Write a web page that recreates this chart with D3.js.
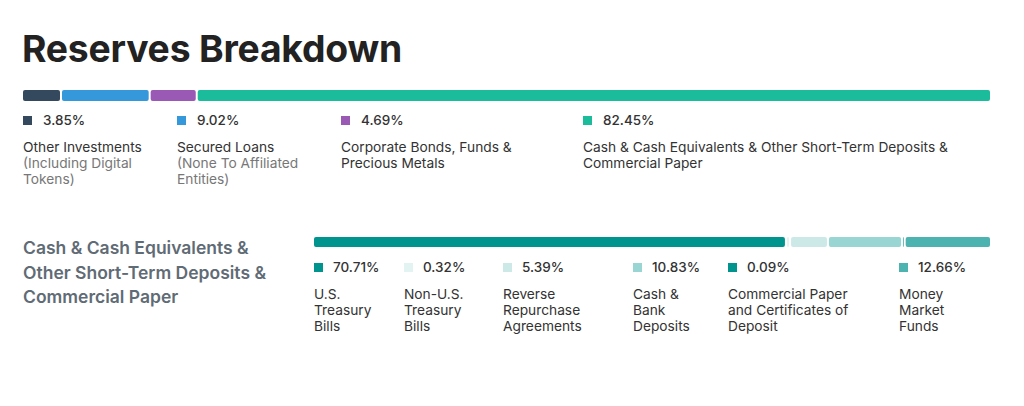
<!DOCTYPE html>
<html><head><meta charset="utf-8">
<script src="https://cdn.jsdelivr.net/npm/d3@7"></script>
<style>
html,body{margin:0;padding:0;background:#fff;}
svg{display:block;font-family:Inter, "Noto Sans", sans-serif;}
</style></head>
<body><svg id="chart" width="1024" height="406"></svg>
<script>
// ---- data ----
const title = "Reserves Breakdown";
const topCategories = ["Other Investments", "Secured Loans", "Corporate Bonds, Funds & Precious Metals", "Cash & Cash Equivalents & Other Short-Term Deposits & Commercial Paper"];
const topValues = [3.85, 9.02, 4.69, 82.45];
const topLabelLines = [
  [["Other Investments", 0], ["(Including Digital", 1], ["Tokens)", 1]],
  [["Secured Loans", 0], ["(None To Affiliated", 1], ["Entities)", 1]],
  [["Corporate Bonds, Funds &", 0], ["Precious Metals", 0]],
  [["Cash & Cash Equivalents & Other Short-Term Deposits &", 0], ["Commercial Paper", 0]]
];
const topColors = ["#34495e", "#3498db", "#9b59b6", "#1abc9c"];

const subTitleLines = ["Cash & Cash Equivalents &", "Other Short-Term Deposits &", "Commercial Paper"];
const subCategories = ["U.S. Treasury Bills", "Non-U.S. Treasury Bills", "Reverse Repurchase Agreements", "Cash & Bank Deposits", "Commercial Paper and Certificates of Deposit", "Money Market Funds"];
const subValues = [70.71, 0.32, 5.39, 10.83, 0.09, 12.66];
const subLabelLines = [
  ["U.S.", "Treasury", "Bills"],
  ["Non-U.S.", "Treasury", "Bills"],
  ["Reverse", "Repurchase", "Agreements"],
  ["Cash &", "Bank", "Deposits"],
  ["Commercial Paper", "and Certificates of", "Deposit"],
  ["Money", "Market", "Funds"]
];
const subColors = ["#00948f", "#e2f3f2", "#cce9e8", "#99d5d3", "#00948f", "#4db3b0"];

// ---- layout ----
const topColumnX = [23, 177, 341, 583];
const subColumnX = [314, 404, 503, 633, 728, 899];

const svg = d3.select("#chart");

svg.append("text").attr("x", 22).attr("y", 62)
  .attr("font-size", 37.3).attr("font-weight", 700).attr("fill", "#222")
  .attr("letter-spacing", "-0.2").text(title);

// flex-like stacked bar: segments share width left after gaps
function stackBar(values, colors, x0, x1, y, h, gap) {
  const n = values.length;
  const x = d3.scaleLinear().domain([0, d3.sum(values)]).range([0, (x1 - x0) - (n - 1) * gap]);
  let cum = 0;
  const segs = values.map((v, i) => { const s = {v, i, c0: cum}; cum += v; return s; });
  svg.append("g").selectAll("rect").data(segs).join("rect")
    .attr("x", d => x0 + x(d.c0) + d.i * gap)
    .attr("y", y)
    .attr("width", d => x(d.v))
    .attr("height", h)
    .attr("rx", 2)
    .attr("fill", d => colors[d.i]);
}

// top bar
stackBar(topValues, topColors, 23, 990, 90, 11, 2);

// top legend
const tg = svg.append("g").selectAll("g").data(topValues).join("g")
  .attr("transform", (d, i) => `translate(${topColumnX[i]},0)`);
tg.append("rect").attr("x", 0).attr("y", 116).attr("width", 9).attr("height", 9)
  .attr("fill", (d, i) => topColors[i]);
tg.append("text").attr("x", 20).attr("y", 125).attr("font-size", 13.5)
  .attr("font-weight", 500).attr("fill", "#333").text(d => d.toFixed(2) + "%");
tg.each(function(d, i) {
  d3.select(this).selectAll("text.lbl").data(topLabelLines[i]).join("text")
    .attr("class", "lbl").attr("x", 0).attr("y", (l, j) => 152 + j * 16)
    .attr("font-size", 13.75).attr("fill", l => l[1] ? "#777" : "#333")
    .text(l => l[0]);
});

// sub section title
svg.append("g").selectAll("text").data(subTitleLines).join("text")
  .attr("x", 23).attr("y", (d, i) => 254 + i * 24.5)
  .attr("font-size", 17.5).attr("font-weight", 600).attr("fill", "#5f6b75")
  .text(d => d);

// sub bar
stackBar(subValues, subColors, 314, 990, 237, 10, 2);

// sub legend
const sg = svg.append("g").selectAll("g").data(subValues).join("g")
  .attr("transform", (d, i) => `translate(${subColumnX[i]},0)`);
sg.append("rect").attr("x", 0).attr("y", 263).attr("width", 9).attr("height", 9)
  .attr("fill", (d, i) => subColors[i]);
sg.append("text").attr("x", 19).attr("y", 272).attr("font-size", 13.5)
  .attr("font-weight", 500).attr("fill", "#333").text(d => d.toFixed(2) + "%");
sg.each(function(d, i) {
  d3.select(this).selectAll("text.lbl").data(subLabelLines[i]).join("text")
    .attr("class", "lbl").attr("x", 0).attr("y", (l, j) => 299 + j * 16)
    .attr("font-size", 13.75).attr("fill", "#333")
    .text(l => l);
});
</script></body></html>
